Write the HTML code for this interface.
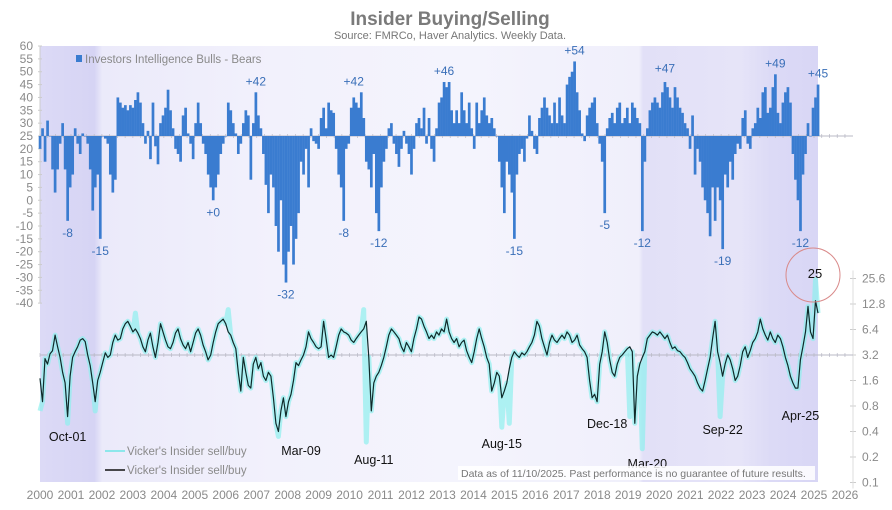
<!DOCTYPE html>
<html><head><meta charset="utf-8"><style>
html,body{margin:0;padding:0;background:#fff;}
body{width:892px;height:505px;overflow:hidden;font-family:"Liberation Sans",sans-serif;}
svg text{font-family:"Liberation Sans",sans-serif;}
</style></head><body>
<svg id="chart" width="892" height="505" viewBox="0 0 892 505" xmlns="http://www.w3.org/2000/svg">
<defs>
<linearGradient id="bg" x1="0" x2="1" y1="0" y2="0">
<stop offset="0" stop-color="#dcdaf6"/><stop offset="0.07" stop-color="#d6d4f4"/><stop offset="0.08" stop-color="#ebeafa"/>
<stop offset="0.3" stop-color="#f2f1fc"/><stop offset="0.55" stop-color="#f4f4fd"/><stop offset="0.77" stop-color="#f0effb"/>
<stop offset="0.775" stop-color="#e2e0f7"/><stop offset="0.9" stop-color="#e6e4f8"/><stop offset="0.94" stop-color="#dcdaf6"/><stop offset="1" stop-color="#d8d6f5"/>
</linearGradient>
</defs>
<rect x="40" y="46" width="778" height="436" fill="url(#bg)"/>
<text x="450" y="25" text-anchor="middle" font-size="19" font-weight="bold" fill="#7a7a7a">Insider Buying/Selling</text>
<text x="450" y="39" text-anchor="middle" font-size="11" fill="#777">Source: FMRCo, Haver Analytics. Weekly Data.</text>
<g id="axes"></g>
<g id="bars"></g>
<g id="lines"></g>
<g id="ann"></g>
<rect x="76" y="55" width="6" height="7" fill="#3a7cd0"/>
<text x="85" y="63" font-size="11.5" fill="#8a8a8a">Investors Intelligence Bulls - Bears</text>
<line x1="105" y1="451" x2="125" y2="451" stroke="#6ee6e6" stroke-width="1.5"/>
<text x="127" y="455" font-size="11.5" fill="#8a8a8a">Vicker's Insider sell/buy</text>
<line x1="105" y1="470" x2="125" y2="470" stroke="#111" stroke-width="1.5"/>
<text x="127" y="474" font-size="11.5" fill="#8a8a8a">Vicker's Insider sell/buy</text>
<rect x="458" y="466" width="357" height="14" fill="#fff" opacity="0.85"/>
<text x="461" y="477" font-size="10.5" fill="#777">Data as of 11/10/2025. Past performance is no guarantee of future results.</text>
<circle cx="813" cy="275" r="27" fill="none" stroke="#d98a8a" stroke-width="1"/>
</svg>
<script>
const bullsBears=[20,28,15,31,25,12,3,12,22,30,12,-8,5,10,28,22,18,26,25,22,12,-4,5,10,-15,25,24,22,10,3,8,40,38,36,37,35,37,36,39,42,38,30,22,27,16,38,21,14,30,33,36,43,35,28,20,18,15,33,36,26,22,16,30,38,30,22,18,10,5,0,5,10,18,22,25,38,35,30,26,18,22,30,35,33,8,30,42,33,28,18,6,-5,10,5,-10,-20,0,-25,-32,-20,-10,-25,-15,-5,15,10,20,5,28,23,22,20,32,36,28,38,35,34,20,10,5,-8,20,22,36,40,38,36,42,32,15,12,5,18,-5,-12,5,15,20,28,30,22,18,13,20,27,22,18,10,20,30,32,28,36,22,32,20,15,28,38,40,46,44,46,35,30,35,30,42,35,30,38,28,20,38,30,35,40,33,30,32,28,25,15,5,-5,15,10,3,-15,10,18,20,15,24,33,27,20,18,32,36,40,36,33,30,38,30,40,33,30,45,48,50,54,42,35,26,23,33,36,38,40,30,22,15,-5,28,32,34,30,36,38,30,32,36,30,38,36,32,30,-12,15,28,35,38,40,38,36,42,46,44,40,36,44,40,36,34,30,28,20,33,10,20,15,5,0,-5,-14,5,-8,5,0,-19,10,5,15,8,18,22,20,32,35,22,20,28,30,36,32,42,44,34,36,44,49,34,30,38,42,44,38,18,8,0,-12,10,18,30,25,36,40,45];
const insider=[1.7,0.9,2.9,2.5,3.3,3.6,5.5,4.0,3.0,2.0,1.5,0.6,1.8,3.0,3.5,4.0,4.8,5.0,4.6,3.2,2.4,1.5,0.9,1.6,2.0,2.6,3.4,3.0,3.2,4.5,5.5,4.8,5.0,6.5,7.5,8.0,7.0,6.0,6.5,5.8,5.0,4.0,3.5,4.8,5.8,4.0,3.0,4.5,7.5,6.0,4.8,4.0,3.8,4.5,5.8,6.5,5.0,4.2,3.8,4.5,3.5,4.5,5.8,6.5,5.5,4.2,3.5,2.8,3.2,4.5,6.0,7.5,8.0,8.5,7.5,6.0,5.5,4.5,3.8,2.0,1.2,3.0,2.0,1.4,1.3,2.5,3.0,2.2,2.6,1.8,1.6,2.0,1.8,1.0,0.5,0.4,0.7,1.0,0.6,0.9,1.1,1.6,2.6,2.4,2.8,3.2,4.0,6.0,5.0,4.5,4.0,3.8,4.0,8.0,5.0,3.0,3.2,3.0,4.0,5.5,6.5,6.0,5.8,5.5,4.8,4.5,5.0,5.5,6.0,6.5,8.0,3.0,0.7,1.5,1.8,2.0,2.4,3.0,4.0,5.5,6.5,6.0,5.5,5.0,4.0,3.5,4.5,4.0,3.5,5.0,6.5,9.0,8.5,7.0,6.0,5.0,5.5,5.0,6.0,5.5,6.5,6.0,8.5,6.0,5.0,4.5,5.0,4.0,4.5,4.8,3.6,3.0,2.6,3.5,5.0,6.5,5.0,4.0,3.0,2.5,1.2,1.5,2.0,1.8,1.0,1.2,1.5,2.2,3.0,3.5,3.2,3.0,3.4,3.2,3.5,4.0,4.5,5.5,8.0,7.0,5.0,4.0,3.2,4.5,5.5,4.8,4.5,5.0,5.5,5.0,6.0,5.5,4.5,4.8,5.5,4.2,3.8,3.5,3.0,1.6,1.0,1.1,0.9,2.5,3.5,6.0,4.5,2.8,2.0,1.8,2.5,3.0,3.2,3.5,3.8,4.0,3.5,0.5,1.8,2.5,3.0,3.5,5.0,5.5,6.0,5.8,5.5,6.0,5.5,5.0,5.5,4.5,3.8,4.0,3.6,3.5,3.2,3.0,2.6,2.2,2.0,1.8,1.5,1.3,1.2,1.6,2.2,3.0,5.0,8.0,3.5,2.6,1.8,2.5,3.2,2.8,2.2,1.6,1.8,2.4,3.5,4.0,3.0,3.6,4.5,5.0,6.0,8.5,6.5,5.5,4.8,6.0,5.0,4.5,5.5,5.0,4.0,3.0,2.4,1.8,1.5,1.3,1.3,2.8,4.0,6.0,12.0,6.0,5.0,14.0,10.0];
const insiderSpikeIdx=[0,11,22,38,75,95,129,130,184,187,235,240,271,309];
const insiderSpikeVal=[0.7,0.5,0.7,10,11,0.35,11,0.3,0.45,0.5,0.6,0.25,0.6,25];
const leftTicks=[60,55,50,45,40,35,30,25,20,15,10,5,0,-5,-10,-15,-20,-25,-30,-35,-40];
const rightTicks=[25.6,12.8,6.4,3.2,1.6,0.8,0.4,0.2,0.1];
const yearLabels=[2000,2001,2002,2003,2004,2005,2006,2007,2008,2009,2010,2011,2012,2013,2014,2015,2016,2017,2018,2019,2020,2021,2022,2023,2024,2025,2026];
const barLabels=["-8","-15","+0","+42","-32","+42","-8","-12","+46","-15","+54","-5","-12","+47","-19","+49","-12","+45"];
const barLabelIdx=[11,24,69,86,98,125,121,135,161,189,213,225,240,249,272,293,303,310];
const barLabelVal=[-8,-15,0,42,-32,42,-8,-12,46,-15,54,-5,-12,47,-19,49,-12,45];
const eventLabels=["Oct-01","Mar-09","Aug-11","Aug-15","Dec-18","Mar-20","Sep-22","Apr-25"];
const eventIdx=[11,104,133,184,226,242,272,303];
const eventY=[441,455,464,448,428,468,434,420];

const NS="http://www.w3.org/2000/svg";
const N=bullsBears.length;
const X0=40,X1=818;
const xOf=i=>X0+i*(X1-X0)/(N-1);
const yL=v=>136-(v-25)*2.571;
const yR=v=>355-Math.log2(v/3.2)*25.5;
const yearX=y=>40+(y-2000)*30.96;
function mk(tag,attrs,parent){const e=document.createElementNS(NS,tag);for(const k in attrs)e.setAttribute(k,attrs[k]);parent.appendChild(e);return e;}
const axes=document.getElementById('axes'),bars=document.getElementById('bars'),lines=document.getElementById('lines'),ann=document.getElementById('ann');
leftTicks.forEach(v=>{
 const t=mk('text',{x:33,y:yL(v)+4,'text-anchor':'end','font-size':12,fill:'#8a8a8a'},axes);t.textContent=v;
 
 
 mk('line',{x1:38,x2:42,y1:yL(v),y2:yL(v),stroke:'#ccc'},axes);
});
mk('line',{x1:40,x2:40,y1:yL(60),y2:yL(-40),stroke:'#ccc'},axes);
rightTicks.forEach(v=>{
 const t=mk('text',{x:862,y:yR(v)+4,'font-size':12,fill:'#8a8a8a'},axes);t.textContent=v;
 
 
 mk('line',{x1:850,x2:856,y1:yR(v),y2:yR(v),stroke:'#ccc'},axes);
});
mk('line',{x1:853,x2:853,y1:yR(25.6)-8,y2:yR(0.1)+6,stroke:'#ddd'},axes);
yearLabels.forEach(y=>{
 const t=mk('text',{x:yearX(y),y:499,'text-anchor':'middle','font-size':12,fill:'#8a8a8a'},axes);t.textContent=y;
 
 
});
for(let i=0;i<N;i++){
 const v=bullsBears[i],y1=yL(v),y0=yL(25);
 const r=mk('rect',{x:xOf(i)-1.3,width:2.7,y:Math.min(y0,y1),height:Math.max(0.5,Math.abs(y1-y0)),fill:'#3a7cd0'},bars);
 
 
}
[yL(25),yR(3.2)].forEach(yy=>{
 mk('line',{x1:40,x2:853,y1:yy,y2:yy,stroke:'#b8b8c4','stroke-width':1},axes);
 for(let k=0;k<=26*4;k++){const xx=40+k*30.96/4;mk('line',{x1:xx,x2:xx,y1:yy-2,y2:yy+2,stroke:'#b8b8c4','stroke-width':0.7},axes);}
});
const cy=insider.slice();
insiderSpikeIdx.forEach((ix,k)=>{cy[ix]=insiderSpikeVal[k];});
let d1='';cy.forEach((v,i)=>{d1+=(i?'L':'M')+xOf(i).toFixed(1)+' '+yR(v).toFixed(1);});
const p1=mk('path',{d:d1,fill:'none',stroke:'#8ff0ee','stroke-width':5,'stroke-linejoin':'round',opacity:0.7},lines);


let d2='';insider.forEach((v,i)=>{d2+=(i?'L':'M')+xOf(i).toFixed(1)+' '+yR(v).toFixed(1);});
const p2=mk('path',{d:d2,fill:'none',stroke:'#0f2a2a','stroke-width':1.2,'stroke-linejoin':'round'},lines);


barLabels.forEach((s,k)=>{
 const v=barLabelVal[k];const yy=v>=25?yL(v)-7:yL(v)+16;
 const t=mk('text',{x:xOf(barLabelIdx[k]),y:yy,'text-anchor':'middle','font-size':12,fill:'#3a6fb8'},ann);t.textContent=s;
 
 
});
eventLabels.forEach((s,k)=>{
 const t=mk('text',{x:xOf(eventIdx[k]),y:eventY[k],'text-anchor':'middle','font-size':12.5,fill:'#111'},ann);t.textContent=s;
 
 
});
const t25=mk('text',{x:815,y:278,'text-anchor':'middle','font-size':13,fill:'#111'},ann);t25.textContent='25';


</script>
</body></html>
